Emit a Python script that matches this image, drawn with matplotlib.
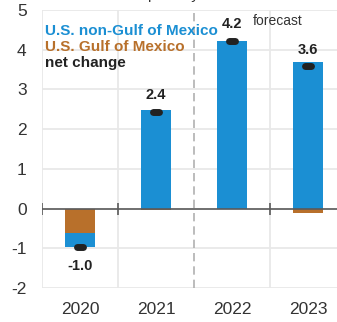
import matplotlib
matplotlib.use('Agg')
import matplotlib.pyplot as plt
import numpy as np

plt.rcParams['font.family'] = ['Liberation Sans', 'DejaVu Sans']

years = ['2020', '2021', '2022', '2023']
non_gulf = [-0.36, 2.47, 4.22, 3.68]    # U.S. non-Gulf of Mexico
gulf = [-0.62, -0.03, 0.0, -0.10]       # U.S. Gulf of Mexico
net_change = [-0.98, 2.44, 4.22, 3.58]
net_labels = ['-1.0', '2.4', '4.2', '3.6']
yticks = [-2, -1, 0, 1, 2, 3, 4, 5]

blue = '#1b8fd3'
orange = '#b8702b'
dark = '#222222'

fig = plt.figure(figsize=(3.37, 3.22), dpi=100)
ax = fig.add_axes([42 / 337, 34 / 322, 304 / 337, 278 / 322])

x = np.arange(len(years))
ng = np.array(non_gulf)
g = np.array(gulf)
# stack blue under orange when both are negative
ng_bottom = np.where((ng < 0) & (g < 0), g, 0)

ax.bar(x, g, width=0.4, color=orange, zorder=3)
ax.bar(x, ng, width=0.4, bottom=ng_bottom, color=blue, zorder=3)

# net change markers
ax.hlines(net_change, x - 0.035, x + 0.035, color=dark, lw=5,
          capstyle='round', zorder=5)
for xi, v, lab in zip(x, net_change, net_labels):
    if v >= 0:
        ax.text(xi, v + 0.42, lab, ha='center', va='center',
                fontsize=10.5, fontweight='bold', color=dark, zorder=6)
    else:
        ax.text(xi, v - 0.46, lab, ha='center', va='center',
                fontsize=10.5, fontweight='bold', color=dark, zorder=6)

# grid
ax.set_xlim(-0.5, 3.5)
ax.set_ylim(-2, 5)
for yy in yticks:
    ax.axhline(yy, color='#e8e8e8', lw=1.3, zorder=1)
for xb in [-0.5, 0.5, 2.5]:
    ax.axvline(xb, color='#e8e8e8', lw=1.3, zorder=1)
ax.axvline(1.5, color='#b0b0b0', lw=1.2, ls=(0, (5, 3)), zorder=2)

# zero line with small ticks at category borders
ax.axhline(0, color='#5a5a5a', lw=1.2, zorder=4)
ax.plot([-0.5, 0.5, 2.5], [0, 0, 0], ls='none', marker='|', ms=9,
        mew=1.2, color='#5a5a5a', zorder=4)

for s in ax.spines.values():
    s.set_visible(False)
ax.set_yticks(yticks)
ax.set_yticklabels([str(t) for t in yticks], fontsize=12.5, color='#333333')
ax.set_xticks(x)
ax.set_xticklabels(years, fontsize=12.5, color='#333333')
ax.tick_params(length=0)
ax.tick_params(axis='x', pad=10)
ax.tick_params(axis='y', pad=11)

# legend as coloured text
ax.text(-0.46, 4.47, 'U.S. non-Gulf of Mexico', color=blue, fontsize=11,
        fontweight='bold', va='center', ha='left', zorder=6)
ax.text(-0.46, 4.07, 'U.S. Gulf of Mexico', color=orange, fontsize=11,
        fontweight='bold', va='center', ha='left', zorder=6)
ax.text(-0.46, 3.67, 'net change', color=dark, fontsize=11,
        fontweight='bold', va='center', ha='left', zorder=6)
ax.text(2.28, 4.73, 'forecast', color='#333333', fontsize=10,
        va='center', ha='left', zorder=6)

# unit line, almost entirely above the figure edge
fig.text(0.37, 1 + 0.5 / 322, 'million barrels per day', ha='center',
         va='baseline', fontsize=11, color='#333333')

fig.savefig('out.png', dpi=100)
